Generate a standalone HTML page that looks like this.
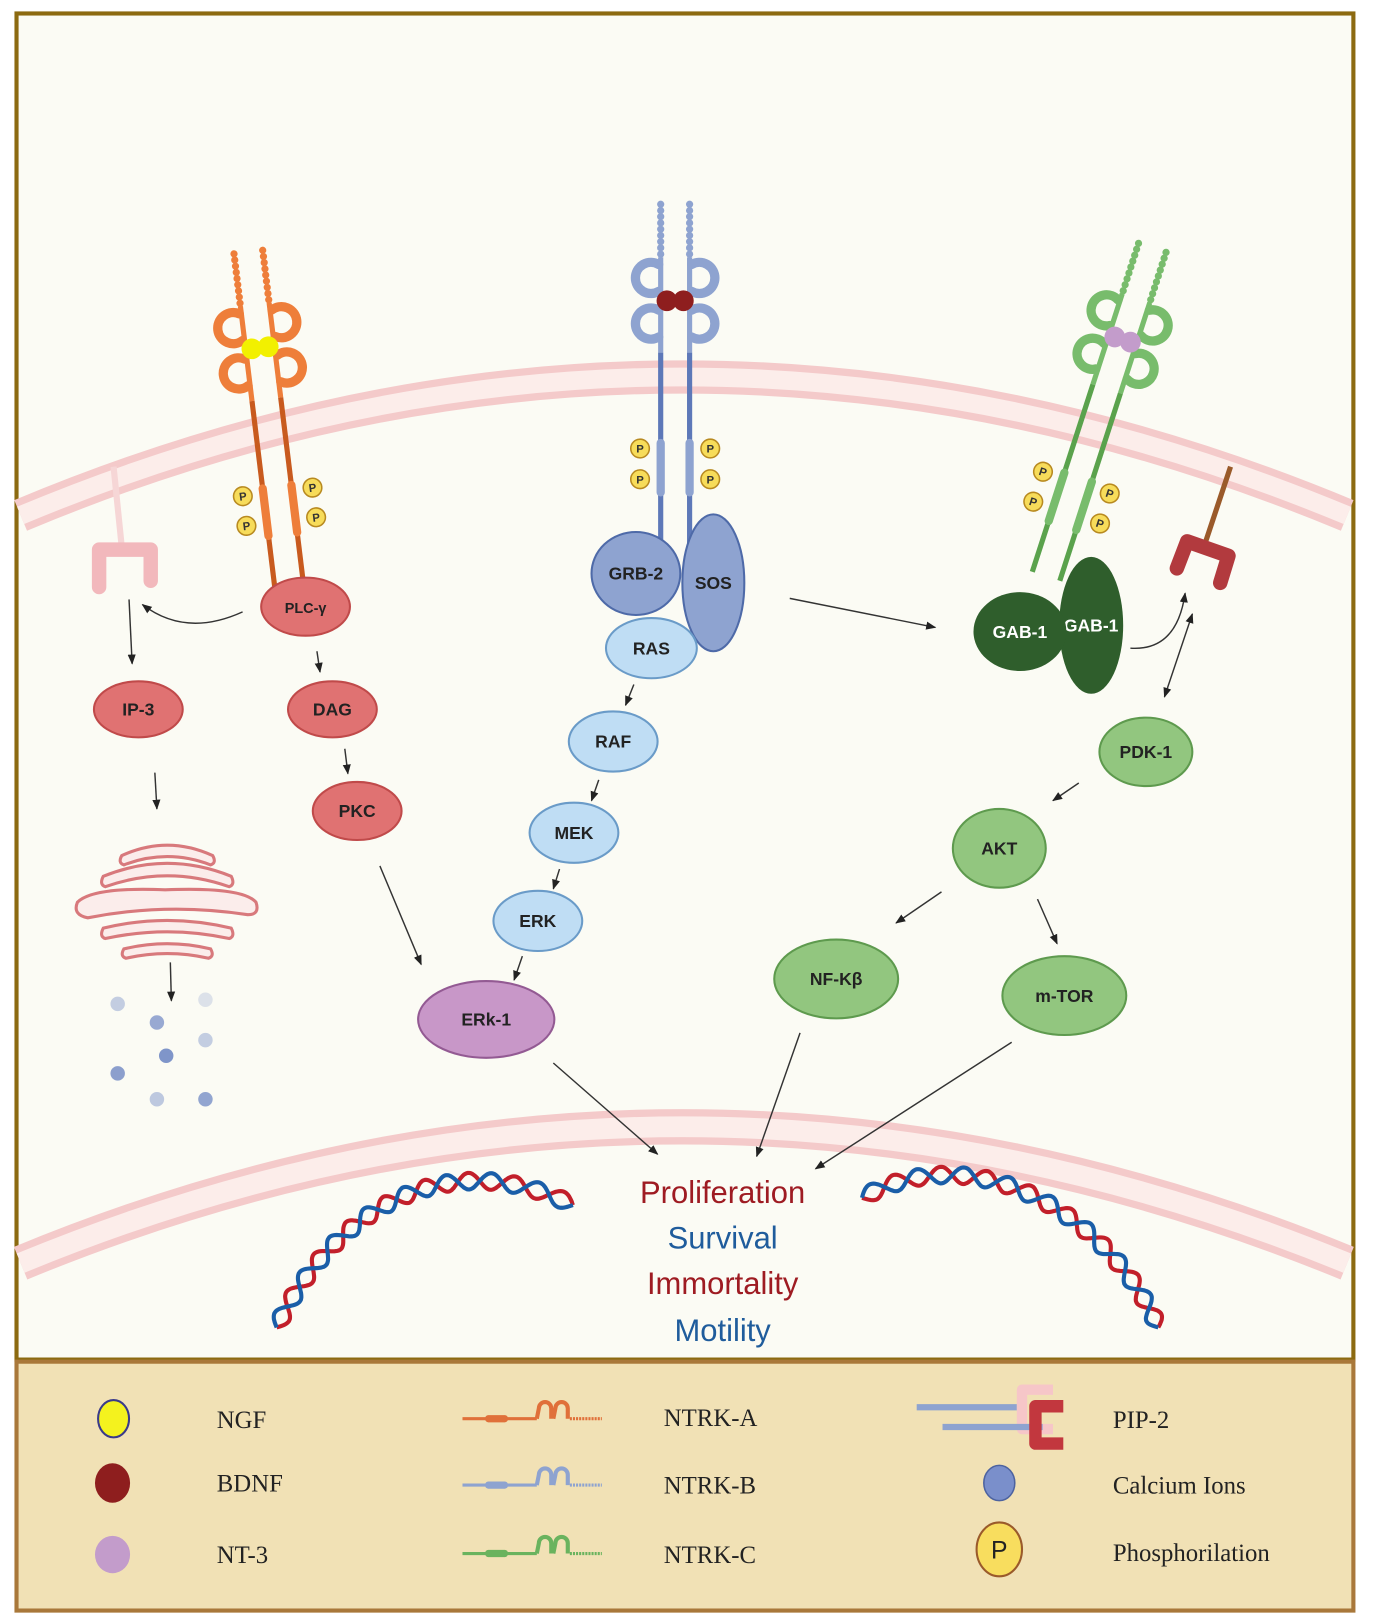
<!DOCTYPE html>
<html><head><meta charset="utf-8"><style>
html,body{margin:0;padding:0;background:#fff}
svg{display:block}
text{font-family:"Liberation Sans",sans-serif;font-weight:bold}
</style></head><body>
<svg id="s" width="1373" height="1623" viewBox="0 0 1330 1565" preserveAspectRatio="none" xmlns="http://www.w3.org/2000/svg">
<defs>
<marker id="a" viewBox="0 0 10 10" refX="9" refY="5" markerWidth="7" markerHeight="7" orient="auto-start-reverse"><path d="M0,1 L10,5 L0,9 z" fill="#222"/></marker>
</defs>
<rect x="0" y="0" width="1330" height="1565" fill="#fff"/>
<rect x="16" y="13" width="1295" height="1298" fill="#FBFBF4" stroke="#8C6A10" stroke-width="4"/>
<path d="M20,497 Q660,230 1305,497" fill="none" stroke="#F4CACA" stroke-width="32"/>
<path d="M20,497 Q660,230 1305,497" fill="none" stroke="#FCEDEA" stroke-width="18"/>
<path d="M20,1218 Q660,955 1305,1218" fill="none" stroke="#F4CACA" stroke-width="34"/>
<path d="M20,1218 Q660,955 1305,1218" fill="none" stroke="#FCEDEA" stroke-width="20"/>
<g id="rec"></g>
<g id="dna"></g>
<line x1="110" y1="450" x2="118" y2="528" stroke="#F6D6D6" stroke-width="6"/>
<path d="M96,566 L96,530 L146,530 L146,560" fill="none" stroke="#F2B8BC" stroke-width="14" stroke-linejoin="round" stroke-linecap="round"/>
<line x1="1192" y1="450" x2="1168" y2="522" stroke="#9A5A2A" stroke-width="5"/>
<path d="M1140,548 L1150,522 L1190,536 L1182,562" fill="none" stroke="#B23A3E" stroke-width="14" stroke-linejoin="round" stroke-linecap="round"/>
<g fill="none" stroke="#D8797C" stroke-width="3">
<path d="M118,825 Q162,805 206,825 Q210,832 204,834 Q162,818 120,834 Q114,832 118,825z" fill="#FBEDEB"/>
<path d="M100,845 Q162,820 224,845 Q228,853 222,855 Q162,834 102,855 Q96,853 100,845z" fill="#FBEDEB"/>
<path d="M75,870 Q90,855 160,858 Q235,855 248,870 Q252,882 240,882 Q162,870 85,885 Q70,882 75,870z" fill="#FBEDEB"/>
<path d="M100,895 Q162,880 224,895 Q228,903 222,905 Q162,892 102,905 Q96,903 100,895z" fill="#FBEDEB"/>
<path d="M120,915 Q162,905 204,915 Q208,922 202,924 Q162,915 122,924 Q116,922 120,915z" fill="#FBEDEB"/>
</g>
<g fill="#7F95C9">
<circle cx="114" cy="968" r="7" opacity=".45"/><circle cx="199" cy="964" r="7" opacity=".25"/>
<circle cx="152" cy="986" r="7" opacity=".8"/><circle cx="199" cy="1003" r="7" opacity=".45"/>
<circle cx="161" cy="1018" r="7"/><circle cx="114" cy="1035" r="7" opacity=".9"/>
<circle cx="152" cy="1060" r="7" opacity=".5"/><circle cx="199" cy="1060" r="7" opacity=".85"/>
</g>
<g stroke="#333" stroke-width="1.4" fill="none" marker-end="url(#a)">
<line x1="125" y1="578" x2="128" y2="640"/>
<line x1="307" y1="628" x2="310" y2="648"/>
<line x1="334" y1="722" x2="337" y2="746"/>
<line x1="150" y1="745" x2="152" y2="780"/>
<line x1="165" y1="928" x2="166" y2="965"/>
<path d="M235,590 Q180,615 138,583"/>
<line x1="614" y1="660" x2="606" y2="680"/>
<line x1="580" y1="752" x2="573" y2="772"/>
<line x1="542" y1="838" x2="536" y2="857"/>
<line x1="506" y1="922" x2="498" y2="945"/>
<line x1="368" y1="835" x2="408" y2="930"/>
<line x1="765" y1="577" x2="906" y2="605"/>
<path d="M1095,625 Q1140,628 1148,572"/>
<line x1="1155" y1="592" x2="1128" y2="672" marker-start="url(#a)"/>
<line x1="1045" y1="755" x2="1020" y2="772"/>
<line x1="912" y1="860" x2="868" y2="890"/>
<line x1="1005" y1="867" x2="1024" y2="910"/>
<line x1="536" y1="1025" x2="637" y2="1113"/>
<line x1="775" y1="996" x2="733" y2="1115"/>
<line x1="980" y1="1005" x2="790" y2="1127"/>
</g>
<g font-size="17" text-anchor="middle" fill="#222">
<ellipse cx="296" cy="585" rx="43" ry="28" fill="#E07272" stroke="#C04A4A" stroke-width="2"/><text x="296" y="591" font-size="14">PLC-γ</text>
<ellipse cx="134" cy="684" rx="43" ry="27" fill="#E07272" stroke="#C04A4A" stroke-width="2"/><text x="134" y="690">IP-3</text>
<ellipse cx="322" cy="684" rx="43" ry="27" fill="#E07272" stroke="#C04A4A" stroke-width="2"/><text x="322" y="690">DAG</text>
<ellipse cx="346" cy="782" rx="43" ry="28" fill="#E07272" stroke="#C04A4A" stroke-width="2"/><text x="346" y="788">PKC</text>
<ellipse cx="691" cy="562" rx="30" ry="66" fill="#8EA3D0" stroke="#4E6AA8" stroke-width="2"/><text x="691" y="568">SOS</text>
<ellipse cx="616" cy="553" rx="43" ry="40" fill="#8EA3D0" stroke="#4E6AA8" stroke-width="2"/><text x="616" y="559">GRB-2</text>
<ellipse cx="631" cy="625" rx="44" ry="29" fill="#BFDDF4" stroke="#6A9BC8" stroke-width="2"/><text x="631" y="631">RAS</text>
<ellipse cx="594" cy="715" rx="43" ry="29" fill="#BFDDF4" stroke="#6A9BC8" stroke-width="2"/><text x="594" y="721">RAF</text>
<ellipse cx="556" cy="803" rx="43" ry="29" fill="#BFDDF4" stroke="#6A9BC8" stroke-width="2"/><text x="556" y="809">MEK</text>
<ellipse cx="521" cy="888" rx="43" ry="29" fill="#BFDDF4" stroke="#6A9BC8" stroke-width="2"/><text x="521" y="894">ERK</text>
<ellipse cx="471" cy="983" rx="66" ry="37" fill="#C897C8" stroke="#935A93" stroke-width="2"/><text x="471" y="989">ERk-1</text>
<ellipse cx="1057" cy="603" rx="31" ry="66" fill="#2F5E2C"/><text x="1057" y="609" fill="#fff">GAB-1</text>
<ellipse cx="988" cy="609" rx="45" ry="38" fill="#2F5E2C"/><text x="988" y="615" fill="#fff">GAB-1</text>
<ellipse cx="1110" cy="725" rx="45" ry="33" fill="#92C67F" stroke="#5E9A4E" stroke-width="2"/><text x="1110" y="731">PDK-1</text>
<ellipse cx="968" cy="818" rx="45" ry="38" fill="#92C67F" stroke="#5E9A4E" stroke-width="2"/><text x="968" y="824">AKT</text>
<ellipse cx="810" cy="944" rx="60" ry="38" fill="#92C67F" stroke="#5E9A4E" stroke-width="2"/><text x="810" y="950">NF-Kβ</text>
<ellipse cx="1031" cy="960" rx="60" ry="38" fill="#92C67F" stroke="#5E9A4E" stroke-width="2"/><text x="1031" y="966">m-TOR</text>
</g>
<g font-size="30" text-anchor="middle">
<text x="700" y="1160" fill="#9E1B22" style="font-weight:normal">Proliferation</text>
<text x="700" y="1204" fill="#1F5C9C" style="font-weight:normal">Survival</text>
<text x="700" y="1248" fill="#9E1B22" style="font-weight:normal">Immortality</text>
<text x="700" y="1293" fill="#1F5C9C" style="font-weight:normal">Motility</text>
</g>
<rect x="16" y="1313" width="1295" height="240" fill="#F1E1B5" stroke="#A9783A" stroke-width="4"/>
<g font-size="24" fill="#222">
<text x="210" y="1377" style="font-family:'Liberation Serif',serif;font-weight:normal">NGF</text>
<text x="210" y="1438" style="font-family:'Liberation Serif',serif;font-weight:normal">BDNF</text>
<text x="210" y="1507" style="font-family:'Liberation Serif',serif;font-weight:normal">NT-3</text>
<text x="643" y="1375" style="font-family:'Liberation Serif',serif;font-weight:normal">NTRK-A</text>
<text x="643" y="1440" style="font-family:'Liberation Serif',serif;font-weight:normal">NTRK-B</text>
<text x="643" y="1507" style="font-family:'Liberation Serif',serif;font-weight:normal">NTRK-C</text>
<text x="1078" y="1377" style="font-family:'Liberation Serif',serif;font-weight:normal">PIP-2</text>
<text x="1078" y="1440" style="font-family:'Liberation Serif',serif;font-weight:normal">Calcium Ions</text>
<text x="1078" y="1505" style="font-family:'Liberation Serif',serif;font-weight:normal">Phosphorilation</text>
</g>
<ellipse cx="110" cy="1368" rx="15" ry="18" fill="#F4F21E" stroke="#3A3A8A" stroke-width="2"/>
<ellipse cx="109" cy="1430" rx="17" ry="19" fill="#8E1E1E"/>
<ellipse cx="109" cy="1499" rx="17" ry="18" fill="#C39CCB"/>
<ellipse cx="968" cy="1430" rx="15" ry="17" fill="#7A8FCB" stroke="#4D63A0" stroke-width="1.5"/>
<ellipse cx="968" cy="1494" rx="22" ry="26" fill="#F8DD5E" stroke="#9A5A2A" stroke-width="2"/>
<text x="968" y="1503" font-size="24" text-anchor="middle" fill="#222" style="font-weight:normal">P</text>
<g id="leg"></g>
<line x1="888" y1="1357" x2="985" y2="1357" stroke="#8EA3D0" stroke-width="6"/>
<path d="M1020,1340 L990,1340 L990,1378 L1020,1378" fill="none" stroke="#F6C6C8" stroke-width="10" stroke-linejoin="round"/>
<line x1="913" y1="1376" x2="1010" y2="1376" stroke="#8EA3D0" stroke-width="6"/>
<path d="M1030,1356 L1003,1356 L1003,1392 L1030,1392" fill="none" stroke="#C2373E" stroke-width="12" stroke-linejoin="round"/>
</svg>
<script>
var NS="http://www.w3.org/2000/svg";
function el(p,t,a){var e=document.createElementNS(NS,t);for(var k in a)e.setAttribute(k,a[k]);p.appendChild(e);return e;}
var rec=document.getElementById('rec');
function receptor(x,y,rot,L,col,stalk,lig){
 var g=el(rec,'g',{transform:'translate('+x+','+y+') rotate('+rot+')'});
 [-1,1].forEach(function(s){
  var cx=s*14;
  el(g,'line',{x1:cx,y1:-92,x2:cx,y2:0,stroke:col,'stroke-width':5});
  el(g,'line',{x1:cx,y1:0,x2:cx,y2:L,stroke:stalk,'stroke-width':5});
  el(g,'rect',{x:cx-4,y:L*0.45,width:8,height:L*0.3,rx:4,fill:col});
  [-28,-72].forEach(function(cy){
   var x1=cx+s*2,y1=cy-13,x2=cx+s*2,y2=cy+13;
   el(g,'path',{d:'M'+x1+','+y1+' A15,15 0 1,'+(s<0?0:1)+' '+x2+','+y2,fill:'none',stroke:col,'stroke-width':9,'stroke-linecap':'round'});
  });
  for(var i=0;i<9;i++) el(g,'circle',{cx:cx,cy:-95-i*6,r:3.5,fill:col});
  [0.5,0.66].forEach(function(f){
   var px=cx+s*20;
   el(g,'circle',{cx:px,cy:L*f,r:9,fill:'#F7DC5A',stroke:'#B88A20','stroke-width':1.5});
   var t=el(g,'text',{x:px,y:L*f+4,'font-size':11,'text-anchor':'middle',fill:'#333'});t.textContent='P';
  });
 });
 el(g,'circle',{cx:-8,cy:-50,r:10,fill:lig});
 el(g,'circle',{cx:8,cy:-50,r:10,fill:lig});
}
receptor(258,385,-7,180,'#EE7E3A','#C85A1E','#F2F000');
receptor(654,340,0,185,'#8EA3D0','#5D78B8','#8E1E1E');
receptor(1072,375,18,190,'#78BC6C','#5AA24C','#C39CCB');
var dna=document.getElementById('dna');
function bez(p,t){var u=1-t;return [u*u*u*p[0][0]+3*u*u*t*p[1][0]+3*u*t*t*p[2][0]+t*t*t*p[3][0],u*u*u*p[0][1]+3*u*u*t*p[1][1]+3*u*t*t*p[2][1]+t*t*t*p[3][1]];}
function helix(P,n){
 ['#C21F2A','#1A5EA8'].forEach(function(c,k){
  var d='';
  for(var i=0;i<=300;i++){var t=i/300;var a=bez(P,t),b=bez(P,Math.min(1,t+0.003));var dx=b[0]-a[0],dy=b[1]-a[1],l=Math.hypot(dx,dy)||1;var nx=-dy/l,ny=dx/l;var o=8*Math.sin(t*n*2*Math.PI+k*Math.PI);d+=(i?'L':'M')+(a[0]+nx*o).toFixed(1)+','+(a[1]+ny*o).toFixed(1);}
  el(dna,'path',{d:d,fill:'none',stroke:c,'stroke-width':4});
 });
}
helix([[268,1280],[320,1170],[430,1100],[555,1162]],8);
helix([[835,1155],[950,1090],[1080,1180],[1122,1280]],8);
var leg=document.getElementById('leg');
[['#E0703A',1368],['#8EA3D0',1432],['#6AB35E',1498]].forEach(function(r){
 var c=r[0],y=r[1];
 el(leg,'line',{x1:448,y1:y,x2:520,y2:y,stroke:c,'stroke-width':3});
 el(leg,'rect',{x:470,y:y-3.5,width:22,height:7,rx:3,fill:c});
 el(leg,'path',{d:'M520,'+y+' L522,'+(y-10)+' A6,6 0 0,1 534,'+(y-10)+' L534,'+y+' M536,'+y+' L538,'+(y-10)+' A6,6 0 0,1 550,'+(y-10)+' L550,'+y,fill:'none',stroke:c,'stroke-width':4});
 el(leg,'line',{x1:552,y1:y,x2:583,y2:y,stroke:c,'stroke-width':3,'stroke-dasharray':'2,1'});
});
</script>
</body></html>
